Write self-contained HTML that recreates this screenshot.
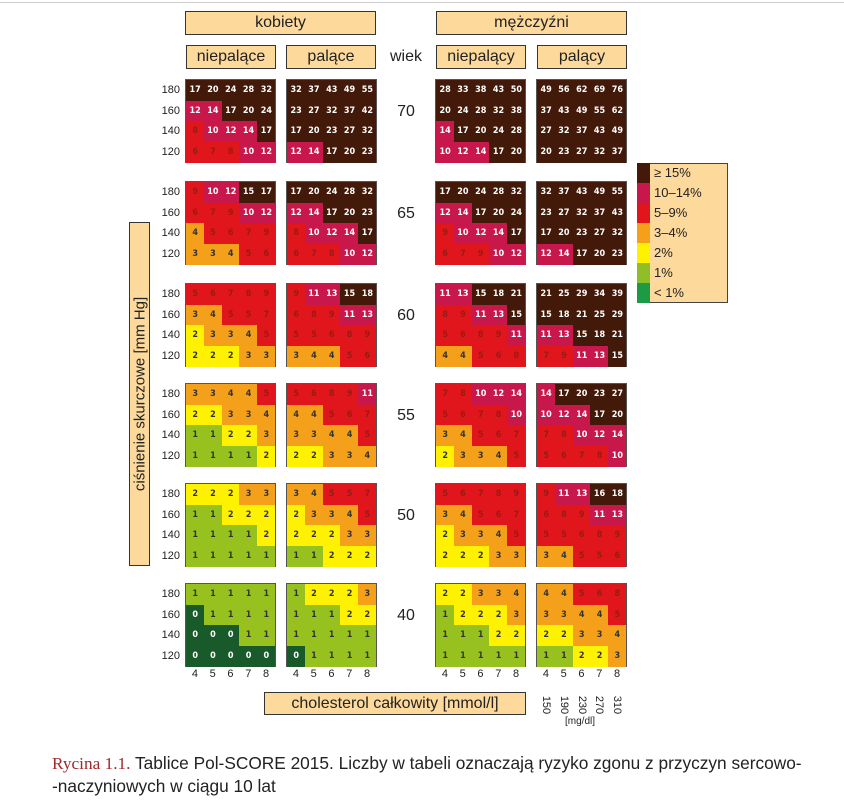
<!DOCTYPE html>
<html><head><meta charset="utf-8">
<style>
body{margin:0;width:844px;height:802px;background:#fff;position:relative;font-family:"Liberation Sans",sans-serif;overflow:hidden}
.box{position:absolute;background:#fdd99b;border:1px solid #333;box-sizing:border-box;text-align:center;color:#222}
.abs{position:absolute}
.cell{position:absolute;font-weight:bold;font-size:9px;text-align:center;font-family:"DejaVu Sans Condensed","Liberation Sans",sans-serif}
</style></head><body>
<div class="abs" style="left:0;top:2px;width:844px;height:1px;background:#ccc"></div>
<div class="box" style="left:185px;top:11px;width:191px;height:24px;font-size:16px;line-height:22px">kobiety</div>
<div class="box" style="left:436px;top:11px;width:191px;height:24px;font-size:16px;line-height:22px">mężczyźni</div>
<div class="box" style="left:186px;top:45px;width:90px;height:24px;font-size:16px;line-height:22px">niepalące</div>
<div class="box" style="left:286px;top:45px;width:90px;height:24px;font-size:16px;line-height:22px">palące</div>
<div class="box" style="left:436px;top:45px;width:90px;height:24px;font-size:16px;line-height:22px">niepalący</div>
<div class="box" style="left:537px;top:45px;width:90px;height:24px;font-size:16px;line-height:22px">palący</div>
<div class="abs" style="left:386px;top:48px;width:40px;text-align:center;font-size:16px;color:#222">wiek</div>
<div class="box" style="left:129px;top:222px;width:21px;height:344px"><div style="position:absolute;left:50%;top:50%;transform:translate(-50%,-50%) rotate(-90deg);white-space:nowrap;font-size:15px">ciśnienie skurczowe [mm Hg]</div></div>
<div class="box" style="left:264px;top:692px;width:262px;height:23px;font-size:16px;line-height:21px">cholesterol całkowity [mmol/l]</div>
<div class="abs" style="left:637px;top:163px;width:91px;height:140px;border:1px solid #444;background:#fdd99b;box-sizing:border-box"></div>
<div id="chart"></div>
<div class="abs" style="left:52px;top:752px;width:790px;font-size:17.3px;line-height:22px;color:#222"><span style="font-family:'Liberation Serif',serif;color:#a0282b">Rycina 1.1.</span> Tablice Pol-SCORE 2015. Liczby w tabeli oznaczają ryzyko zgonu z przyczyn sercowo-<br>-naczyniowych w ciągu 10 lat</div>
<script>
const ages=[70,65,60,55,50,40];
const sbpTicks=[180,160,140,120];
const cholTicks=[4,5,6,7,8];
const mgTicks=[150,190,230,270,310];
const legendLabels=["≥ 15%","10–14%","5–9%","3–4%","2%","1%","< 1%"];
const womenNS=[
[[17,20,24,28,32],[12,14,17,20,24],[8,10,12,14,17],[6,7,8,10,12]],
[[9,10,12,15,17],[6,7,9,10,12],[4,5,6,7,9],[3,3,4,5,6]],
[[5,6,7,8,9],[3,4,5,5,7],[2,3,3,4,5],[2,2,2,3,3]],
[[3,3,4,4,5],[2,2,3,3,4],[1,1,2,2,3],[1,1,1,1,2]],
[[2,2,2,3,3],[1,1,2,2,2],[1,1,1,1,2],[1,1,1,1,1]],
[[1,1,1,1,1],[0,1,1,1,1],[0,0,0,1,1],[0,0,0,0,0]]];
const womenS=[
[[32,37,43,49,55],[23,27,32,37,42],[17,20,23,27,32],[12,14,17,20,23]],
[[17,20,24,28,32],[12,14,17,20,23],[8,10,12,14,17],[6,7,8,10,12]],
[[9,11,13,15,18],[6,8,9,11,13],[5,5,6,8,9],[3,4,4,5,6]],
[[5,6,8,9,11],[4,4,5,6,7],[3,3,4,4,5],[2,2,3,3,4]],
[[3,4,5,5,7],[2,3,3,4,5],[2,2,2,3,3],[1,1,2,2,2]],
[[1,2,2,2,3],[1,1,1,2,2],[1,1,1,1,1],[0,1,1,1,1]]];
const menNS=[
[[28,33,38,43,50],[20,24,28,32,38],[14,17,20,24,28],[10,12,14,17,20]],
[[17,20,24,28,32],[12,14,17,20,24],[9,10,12,14,17],[6,7,9,10,12]],
[[11,13,15,18,21],[8,9,11,13,15],[5,6,8,9,11],[4,4,5,6,8]],
[[7,8,10,12,14],[5,6,7,8,10],[3,4,5,6,7],[2,3,3,4,5]],
[[5,6,7,8,9],[3,4,5,6,7],[2,3,3,4,5],[2,2,2,3,3]],
[[2,2,3,3,4],[1,2,2,2,3],[1,1,1,2,2],[1,1,1,1,1]]];
const menS=[
[[49,56,62,69,76],[37,43,49,55,62],[27,32,37,43,49],[20,23,27,32,37]],
[[32,37,43,49,55],[23,27,32,37,43],[17,20,23,27,32],[12,14,17,20,23]],
[[21,25,29,34,39],[15,18,21,25,29],[11,13,15,18,21],[7,9,11,13,15]],
[[14,17,20,23,27],[10,12,14,17,20],[7,8,10,12,14],[5,6,7,8,10]],
[[9,11,13,16,18],[6,8,9,11,13],[5,5,6,8,9],[3,4,5,5,6]],
[[4,4,5,6,8],[3,3,4,4,5],[2,2,3,3,4],[1,1,2,2,3]]];

const groups=[["women-nonsmoking",womenNS,186],["women-smoking",womenS,287],["men-nonsmoking",menNS,436],["men-smoking",menS,537]];
const blockTop=[80,182,284,384,484,584];
const CW=17.8,RH=20.6;
const legendColors=["#431a09","#c8174b","#e1161c","#f5a01a","#fff200","#8fbf26","#1e9a46"];
function color(v){return v>=15?"#431a09":v>=10?"#c8174b":v>=5?"#e1161c":v>=3?"#f5a01a":v>=2?"#fff200":v>=1?"#97c11f":"#195a2a";}
function txt(v){return (v>=10||v<1)?"#fff":(v>=5?"#9a1a14":"#333");}
const root=document.getElementById('chart');
function add(tag,css,html){const e=document.createElement(tag);e.style.cssText=css;if(html!==undefined)e.textContent=html;root.appendChild(e);return e;}
groups.forEach(g=>{
 const [nm,data,x0]=g;
 ages.forEach((age,ai)=>{
  const y0=blockTop[ai];
  const blk=add('div',`position:absolute;left:${x0-1}px;top:${y0-1}px;width:${CW*5+2}px;height:${RH*4+2}px;background:#555`);
  
  
  data[ai].forEach((row,ri)=>row.forEach((v,ci)=>{
   const c=add('div',`left:${x0+ci*CW}px;top:${y0+ri*RH}px;width:${CW+0.5}px;height:${RH+0.5}px;line-height:${RH}px;background:${color(v)};color:${txt(v)}`,String(v));
   c.className='cell';
   
   
  }));
 });
});
ages.forEach((age,ai)=>{
 const y0=blockTop[ai];
 const a=add('div',`position:absolute;left:386px;top:${y0+RH*1.5-8}px;width:40px;text-align:center;font-size:16px;color:#222`,String(age));
 
 
 sbpTicks.forEach((s,ri)=>{
  const l=add('div',`position:absolute;left:150px;top:${y0+ri*RH+4}px;width:30px;text-align:right;font-size:11px;color:#222`,String(s));
  
  
 });
});
groups.forEach(g=>{
 cholTicks.forEach((t,ci)=>{
  const l=add('div',`position:absolute;left:${g[2]+ci*CW}px;top:668px;width:${CW}px;text-align:center;font-size:11px;color:#222`,String(t));
  
  
 });
});
mgTicks.forEach((t,ci)=>{
 const l=add('div',`position:absolute;left:${537+ci*CW+CW/2-12}px;top:699px;width:24px;text-align:center;font-size:11px;color:#222;transform:rotate(90deg)`,String(t));
 
 
});
const mg=add('div','position:absolute;left:565px;top:716px;font-size:10px;color:#222','[mg/dl]');


legendLabels.forEach((t,i)=>{
 const sw=add('div',`position:absolute;left:637px;top:${163+i*20}px;width:13px;height:20px;background:${legendColors[i]}`);
 
 
 const l=add('div',`position:absolute;left:654px;top:${165+i*20}px;font-size:13px;color:#222`,t);
 
 
});
</script>
</body></html>
